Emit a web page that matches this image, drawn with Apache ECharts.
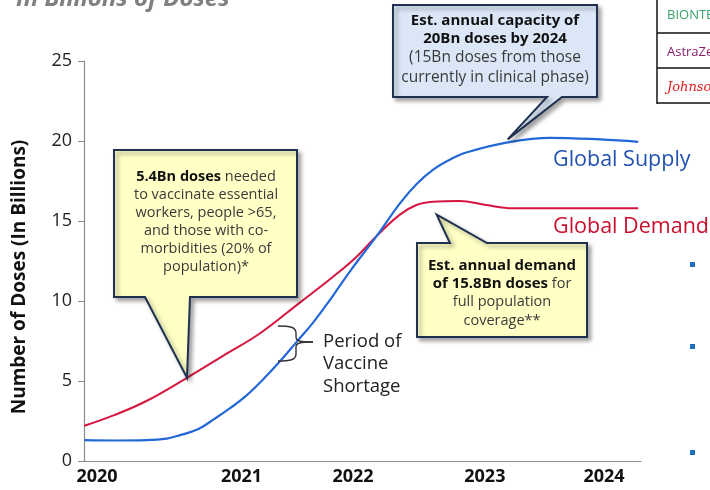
<!DOCTYPE html>
<html>
<head>
<meta charset="utf-8">
<script src="https://cdn.jsdelivr.net/npm/echarts@6/dist/echarts.min.js"></script>
<style>
html,body{margin:0;padding:0;background:#fff;}
#chart{width:710px;height:490px;}
</style>
</head>
<body>
<div id="chart"></div>
<script>
// ---- data ----
var supplyYears = [2019.90, 2020.15, 2020.39, 2020.55, 2020.65, 2020.80, 2020.92, 2021.05, 2021.18, 2021.31, 2021.44, 2021.57, 2021.70, 2021.85, 2022.00, 2022.21, 2022.39, 2022.52, 2022.65, 2022.80, 2022.92, 2023.23, 2023.57, 2023.97, 2024.27];
var supplyValues = [1.3, 1.28, 1.3, 1.4, 1.6, 2.0, 2.6, 3.3, 4.1, 5.1, 6.2, 7.4, 8.6, 10.2, 11.9, 14.1, 16.1, 17.3, 18.2, 18.9, 19.3, 19.9, 20.2, 20.1, 19.95];
var demandYears = [2019.90, 2020.13, 2020.39, 2020.71, 2021.00, 2021.29, 2021.60, 2021.86, 2022.04, 2022.21, 2022.39, 2022.52, 2022.65, 2022.86, 2023.07, 2023.28, 2023.70, 2024.27];
var demandValues = [2.2, 2.85, 3.75, 5.2, 6.6, 8.0, 9.9, 11.5, 12.7, 14.1, 15.4, 16.0, 16.2, 16.25, 16.0, 15.8, 15.8, 15.8];
var yearTickLabels = ['2020', '2021', '2022', '2023', '2024'];
var yearTickPositions = [2020, 2021.14, 2022.02, 2023.06, 2024];
var yTicks = [0, 5, 10, 15, 20, 25];

function pairs(xs, ys) { return xs.map(function (x, i) { return [x, ys[i]]; }); }

var FONT = '"Open Sans", "Noto Sans", sans-serif';
var chart = echarts.init(document.getElementById('chart'));

var option = {
  animation: false,
  grid: { left: 84, right: 69, top: 61, bottom: 29 },
  xAxis: {
    type: 'value',
    min: 2019.8974, max: 2024.2919,
    axisLine: { show: true, lineStyle: { color: '#8c8c8c', width: 1.2 } },
    axisTick: { show: false },
    splitLine: { show: false },
    axisLabel: {
      customValues: yearTickPositions,
      formatter: function (v) {
        var i = yearTickPositions.indexOf(v);
        return i >= 0 ? yearTickLabels[i] : '';
      },
      color: '#111', fontFamily: FONT, fontWeight: 'bold', fontSize: 18, margin: 7
    }
  },
  yAxis: {
    type: 'value', min: yTicks[0], max: yTicks[yTicks.length - 1], interval: 5,
    name: 'Number of Doses (In Billions)',
    nameLocation: 'middle', nameGap: 55,
    nameTextStyle: { fontFamily: FONT, fontWeight: 'bold', fontSize: 19, color: '#111', padding: [0, 32, 0, 0] },
    axisLine: { show: true, lineStyle: { color: '#8c8c8c', width: 1.2 } },
    axisTick: { show: true, inside: false, length: 6, lineStyle: { color: '#8c8c8c' } },
    splitLine: { show: false },
    axisLabel: { color: '#222', fontFamily: FONT, fontSize: 18, margin: 12 }
  },
  series: [
    {
      name: 'Global Supply', type: 'line', smooth: 0.4, showSymbol: false,
      lineStyle: { color: '#2468d8', width: 2.2 },
      data: pairs(supplyYears, supplyValues), z: 3
    },
    {
      name: 'Global Demand', type: 'line', smooth: 0.4, showSymbol: false,
      lineStyle: { color: '#d41640', width: 2 },
      data: pairs(demandYears, demandValues), z: 2
    }
  ]
};
chart.setOption(option);

// pointer tips anchored to chart coordinates
var tip1 = chart.convertToPixel({ gridIndex: 0 }, [2020.71, 5.2]);
var tip2 = chart.convertToPixel({ gridIndex: 0 }, [2023.24, 20.1]);
var tip3 = chart.convertToPixel({ gridIndex: 0 }, [2022.68, 15.4]);

var shadow = { shadowBlur: 4, shadowOffsetX: 3, shadowOffsetY: 3, shadowColor: 'rgba(0,0,0,0.35)' };
function calloutStyle(fill) {
  return Object.assign({ fill: fill, stroke: '#1f3050', lineWidth: 2, lineJoin: 'miter' }, shadow);
}
function bez(x1, y1, cpx1, cpy1, cpx2, cpy2, x2, y2) {
  return { type: 'bezierCurve', z: 5, shape: { x1: x1, y1: y1, cpx1: cpx1, cpy1: cpy1, cpx2: cpx2, cpy2: cpy2, x2: x2, y2: y2 },
    style: { fill: null, stroke: '#333', lineWidth: 1.4 } };
}
function seg(x1, y1, x2, y2, color, w) {
  return { type: 'line', z: 5, shape: { x1: x1, y1: y1, x2: x2, y2: y2 }, style: { stroke: color || '#333', lineWidth: w || 1.4 } };
}

var graphics = [
  // partial slide title at top
  { type: 'text', x: 16, y: -1, style: { text: 'In Billions of Doses', font: 'italic bold 24px ' + FONT, fill: '#808080', verticalAlign: 'middle' } },
  // callout 1
  { type: 'polygon', z: 10, shape: { points: [[114, 150], [297, 150], [297, 297], [190, 297], tip1, [145, 297], [114, 297]] }, style: calloutStyle('#ffffc6') },
  { type: 'text', z: 11, x: 206, y: 168, style: {
      text: '{b|5.4Bn doses} needed\nto vaccinate essential\nworkers, people >65,\nand those with co-\nmorbidities (20% of\npopulation)*',
      align: 'center', verticalAlign: 'top', fontFamily: FONT, fontSize: 14.5, lineHeight: 18, fill: '#3a3a3a',
      rich: { b: { fontWeight: 'bold', fill: '#111', fontSize: 14.5, fontFamily: FONT, lineHeight: 18 } } } },
  // callout 2
  { type: 'polygon', z: 10, shape: { points: [[393, 5], [597, 5], [597, 97], [562, 97], tip2, [547, 97], [393, 97]] }, style: calloutStyle('#dbe7f7') },
  { type: 'text', z: 11, x: 495, y: 12, style: {
      text: '{b|Est. annual capacity of}\n{b|20Bn doses by 2024}\n(15Bn doses from those\ncurrently in clinical phase)',
      align: 'center', verticalAlign: 'top', fontFamily: FONT, fontSize: 15.5, lineHeight: 19.5, fill: '#3a3a3a',
      rich: { b: { fontWeight: 'bold', fill: '#111', fontSize: 15, fontFamily: FONT, lineHeight: 18 } } } },
  // callout 3
  { type: 'polygon', z: 10, shape: { points: [[417, 243], [450, 243], tip3, [487, 243], [587, 243], [587, 337], [417, 337]] }, style: calloutStyle('#ffffc6') },
  { type: 'text', z: 11, x: 502, y: 256, style: {
      text: '{b|Est. annual demand}\n{b|of 15.8Bn doses} for\nfull population\ncoverage**',
      align: 'center', verticalAlign: 'top', fontFamily: FONT, fontSize: 14.5, lineHeight: 18.5, fill: '#3a3a3a',
      rich: { b: { fontWeight: 'bold', fill: '#111', fontSize: 15, fontFamily: FONT, lineHeight: 18.5 } } } },
  // series labels
  { type: 'text', z: 5, x: 553, y: 160, style: { text: 'Global Supply', font: '21.5px ' + FONT, fill: '#2152b0', verticalAlign: 'middle' } },
  { type: 'text', z: 5, x: 553, y: 227, style: { text: 'Global Demand', font: '21.5px ' + FONT, fill: '#c8102e', verticalAlign: 'middle' } },
  // brace
  bez(278, 326, 290, 326, 296, 327, 296, 333),
  seg(296, 333, 296, 337),
  bez(296, 337, 296, 341, 300, 342, 313, 342),
  bez(313, 342, 300, 342, 296, 343, 296, 347),
  seg(296, 347, 296, 354),
  bez(296, 354, 296, 360, 290, 361, 278, 361),
  // shortage text
  { type: 'text', z: 5, x: 323, y: 330, style: { text: 'Period of\nVaccine\nShortage', font: '18.5px ' + FONT, fill: '#222', lineHeight: 22.5, verticalAlign: 'top' } },
  // logo table fragment top right
  seg(657, 0, 657, 104, '#111', 1.5),
  seg(657, 33, 710, 33, '#111', 1.5),
  seg(657, 68, 710, 68, '#111', 1.5),
  seg(657, 103, 710, 103, '#111', 1.5),
  { type: 'text', x: 667, y: 15, style: { text: 'BIONTECH', font: '13px ' + FONT, fill: '#3aa36a', verticalAlign: 'middle' } },
  { type: 'text', x: 667, y: 52, style: { text: 'AstraZeneca', font: '13px ' + FONT, fill: '#8b1d6b', verticalAlign: 'middle' } },
  { type: 'text', x: 667, y: 88, style: { text: 'Johnson', font: 'italic 13px "DejaVu Serif", serif', fill: '#e0201c', verticalAlign: 'middle' } },
  // bullet fragments on right
  { type: 'rect', shape: { x: 690, y: 262, width: 5, height: 5 }, style: { fill: '#1f6fbf' } },
  { type: 'rect', shape: { x: 690, y: 344, width: 5, height: 5 }, style: { fill: '#1f6fbf' } },
  { type: 'rect', shape: { x: 690, y: 450, width: 5, height: 5 }, style: { fill: '#1f6fbf' } }
];
chart.setOption({ graphic: graphics });
</script>
</body>
</html>
